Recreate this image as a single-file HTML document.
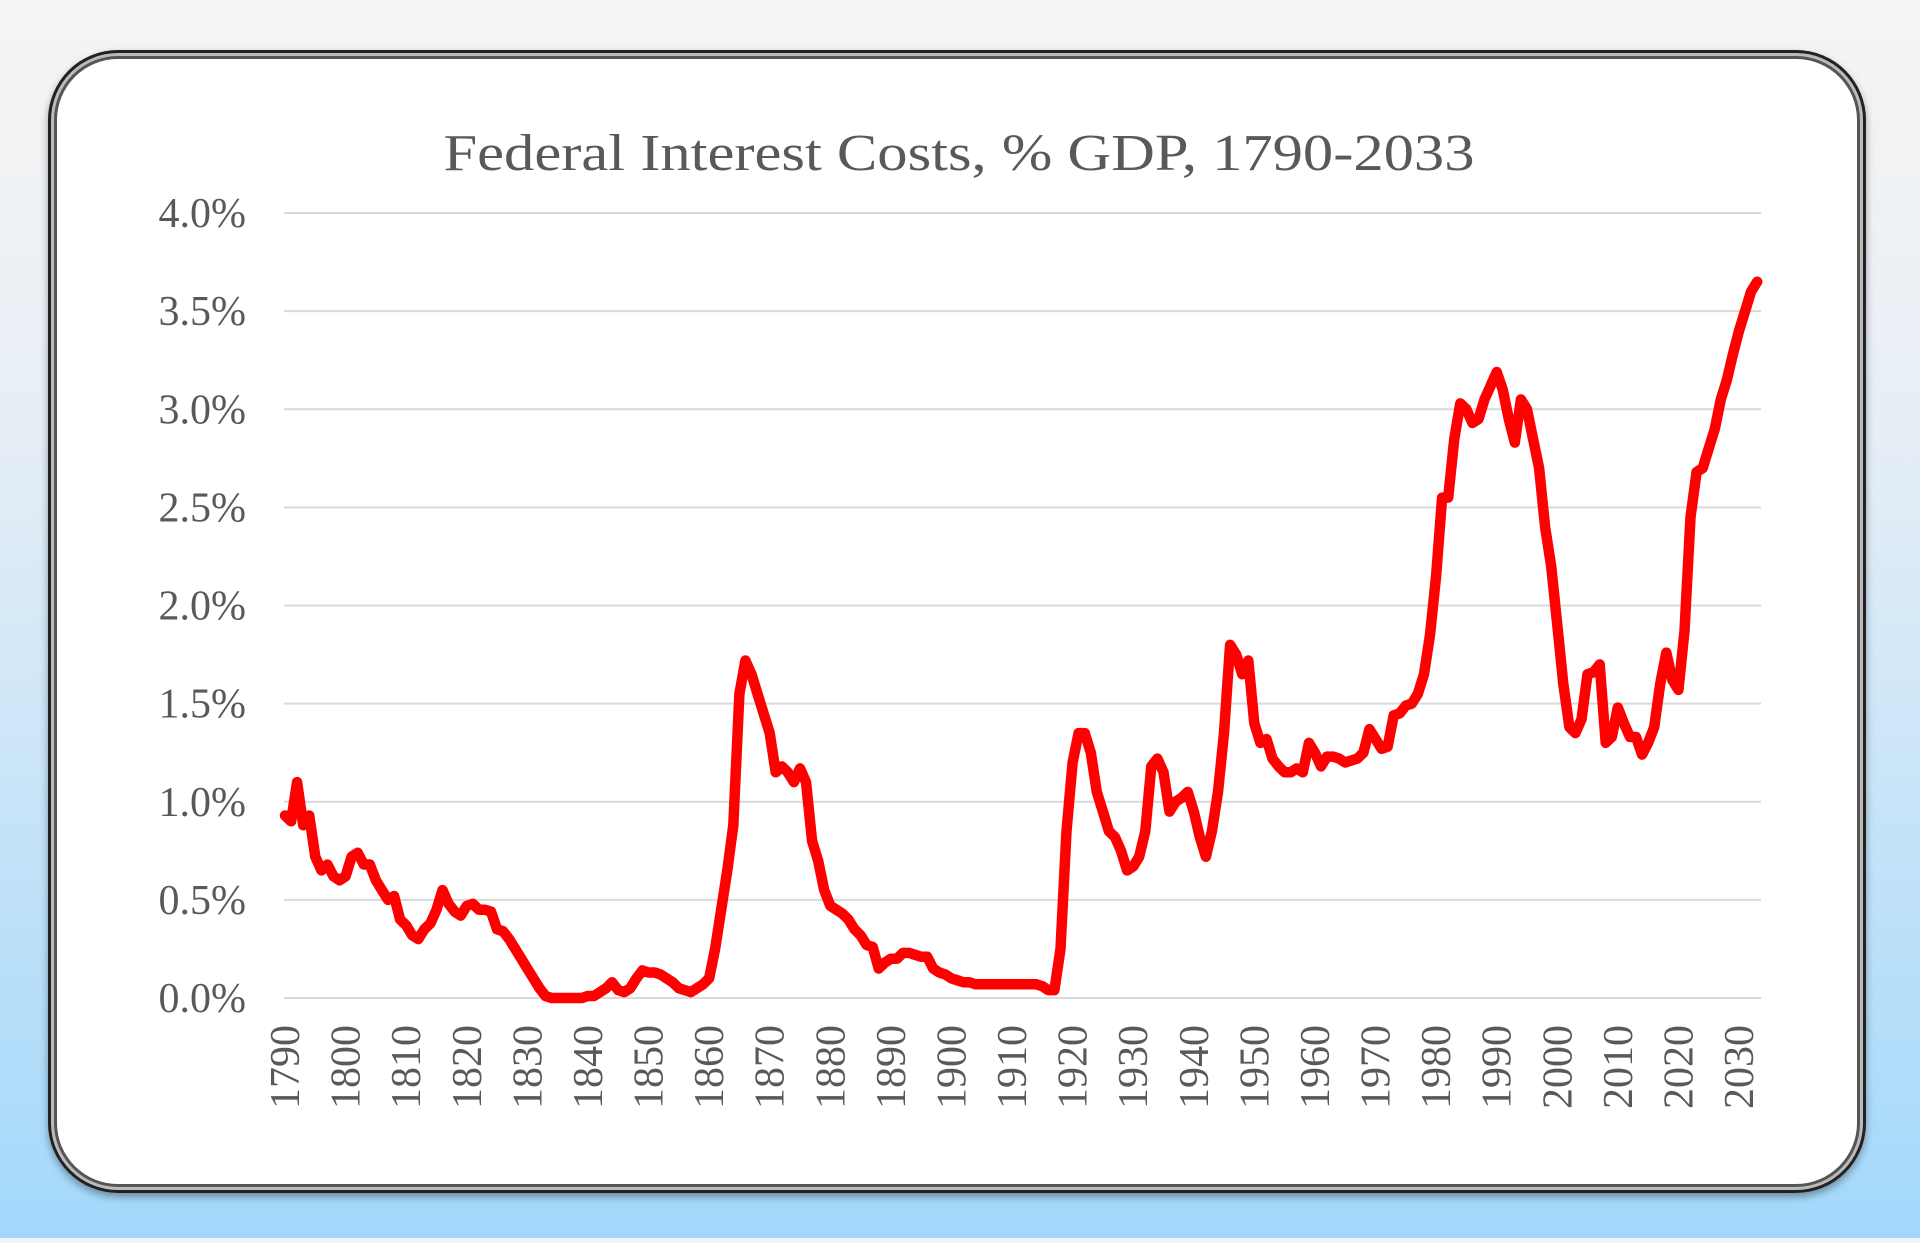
<!DOCTYPE html>
<html><head><meta charset="utf-8"><style>
html,body{margin:0;padding:0}
body{width:1920px;height:1243px;overflow:hidden;background:linear-gradient(180deg,#f6f4f3 0%,#e6eef6 35%,#a2d8fb 100%);position:relative;font-family:"Liberation Serif",serif}
#frame{position:absolute;left:48px;top:50px;width:1818px;height:1143px;border-radius:70px;background:#fff;box-shadow:0 0 0 3px #222 inset,0 0 0 6px #bbb inset,0 0 0 9px #555 inset,0 0 14px 6px rgba(255,255,255,.9) inset, 0 4px 8px rgba(0,0,0,.35)}
#strip{position:absolute;left:0;top:1238px;width:1920px;height:5px;background:#eef6fc}
svg{position:absolute;left:0;top:0}
</style></head><body>
<div id="strip"></div>
<div id="frame"></div>
<svg id="chart" width="1920" height="1243"></svg>
<script>
const years=[];for(let y=1790;y<=2033;y++)years.push(y);
const values=[0.93,0.9,1.1,0.88,0.93,0.72,0.65,0.68,0.62,0.6,0.62,0.72,0.74,0.68,0.68,0.6,0.55,0.5,0.52,0.4,0.37,0.32,0.3,0.35,0.38,0.45,0.55,0.48,0.44,0.42,0.47,0.48,0.45,0.45,0.44,0.35,0.34,0.3,0.25,0.2,0.15,0.1,0.05,0.01,0.0,0.0,0.0,0.0,0.0,0.0,0.01,0.01,0.03,0.05,0.08,0.04,0.03,0.05,0.1,0.14,0.13,0.13,0.12,0.1,0.08,0.05,0.04,0.03,0.05,0.07,0.1,0.25,0.45,0.65,0.88,1.55,1.72,1.65,1.55,1.45,1.35,1.15,1.18,1.15,1.1,1.17,1.1,0.8,0.7,0.55,0.47,0.45,0.43,0.4,0.35,0.32,0.27,0.26,0.15,0.18,0.2,0.2,0.23,0.23,0.22,0.21,0.21,0.15,0.13,0.12,0.1,0.09,0.08,0.08,0.07,0.07,0.07,0.07,0.07,0.07,0.07,0.07,0.07,0.07,0.07,0.06,0.04,0.04,0.25,0.85,1.2,1.35,1.35,1.25,1.05,0.95,0.85,0.82,0.75,0.65,0.67,0.72,0.85,1.18,1.22,1.15,0.95,1.0,1.02,1.05,0.95,0.82,0.72,0.85,1.05,1.35,1.8,1.75,1.65,1.72,1.4,1.3,1.32,1.22,1.18,1.15,1.15,1.17,1.15,1.3,1.25,1.18,1.23,1.23,1.22,1.2,1.21,1.22,1.25,1.37,1.32,1.27,1.28,1.44,1.45,1.49,1.5,1.55,1.65,1.85,2.15,2.55,2.55,2.85,3.03,3.0,2.93,2.95,3.05,3.12,3.19,3.1,2.95,2.83,3.05,3.0,2.85,2.7,2.4,2.2,1.9,1.6,1.38,1.35,1.42,1.65,1.66,1.7,1.3,1.33,1.48,1.4,1.33,1.33,1.24,1.3,1.38,1.6,1.76,1.62,1.57,1.87,2.45,2.68,2.7,2.8,2.9,3.05,3.15,3.28,3.4,3.5,3.6,3.65];
const yTicks=[0,0.5,1,1.5,2,2.5,3,3.5,4];
const yTickLabels=["0.0%","0.5%","1.0%","1.5%","2.0%","2.5%","3.0%","3.5%","4.0%"];
const xTicks=[1790,1800,1810,1820,1830,1840,1850,1860,1870,1880,1890,1900,1910,1920,1930,1940,1950,1960,1970,1980,1990,2000,2010,2020,2030];
const title="Federal Interest Costs, % GDP, 1790-2033";
const NS="http://www.w3.org/2000/svg";
const svg=document.getElementById('chart');
const xS=y=>285+(y-1790)*(1739-285)/240;
const yS=v=>998-v*(998-213)/4;
function mk(t,a,p){const e=document.createElementNS(NS,t);for(const k in a)e.setAttribute(k,a[k]);(p||svg).appendChild(e);return e;}
const tt=mk('text',{x:959,y:170,'text-anchor':'middle','font-size':52,fill:'#595959',textLength:1031,lengthAdjust:'spacingAndGlyphs'});
tt.textContent=title;


yTicks.forEach((v,i)=>{
 const l=mk('line',{x1:284,x2:1761,y1:yS(v),y2:yS(v),stroke:'#d9d9d9','stroke-width':2});
 
 
 const t=mk('text',{x:246,y:yS(v)+14,'text-anchor':'end','font-size':42,fill:'#595959'});
 t.textContent=yTickLabels[i];
 
 
});
xTicks.forEach(y=>{
 const x=xS(y);
 const t=mk('text',{x:0,y:0,'text-anchor':'end','font-size':42,fill:'#595959',transform:`translate(${x+14},1025) rotate(-90)`});
 t.textContent=y;
 
 
});
const d=years.map((y,i)=>(i?'L':'M')+xS(y).toFixed(1)+','+yS(values[i]).toFixed(1)).join('');
const p=mk('path',{d:d,fill:'none',stroke:'#ff0000','stroke-width':10.5,'stroke-linejoin':'round','stroke-linecap':'round'});


</script>
</body></html>
